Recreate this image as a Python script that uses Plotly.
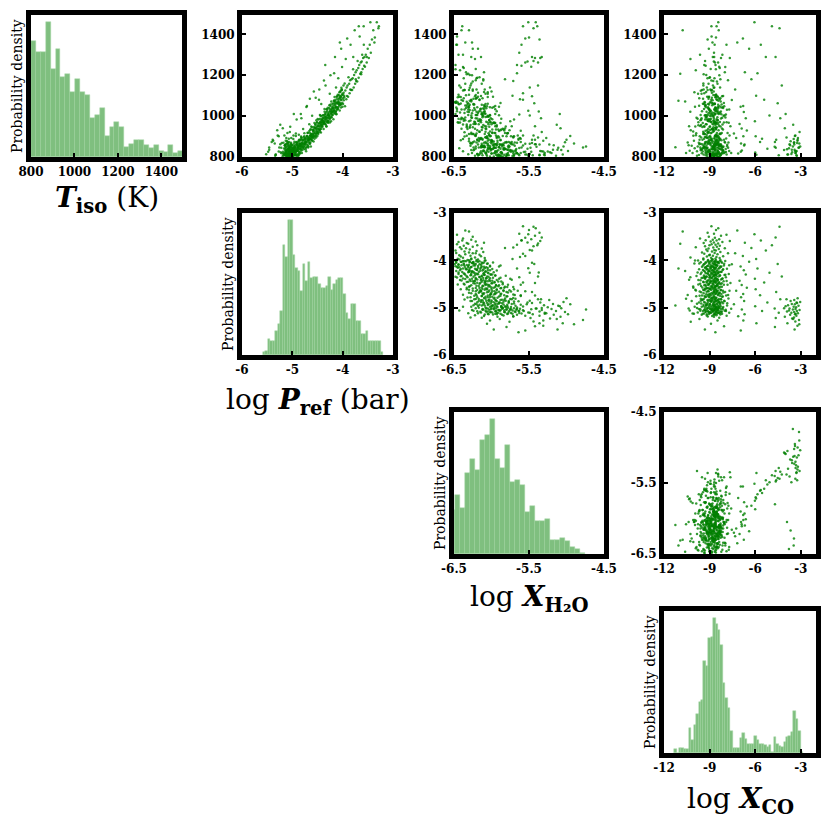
import plotly.graph_objects as go

# ---------------- diagonal histograms (bar heights) ----------------
t_bin_start, t_bin_width = 800, 22.6
t_counts = [353, 320, 320, 413, 270, 330, 243, 253, 200, 238, 200, 188, 118, 128, 150, 63,
            91, 106, 91, 30, 40, 51, 51, 36, 26, 36, 18, 15, 36, 12, 17]

p_bin_start, p_bin_width = -5.59, 0.05
p_counts = [8, 13, 50, 43, 43, 73, 95, 133, 335, 298, 410, 410, 303, 263, 255, 193, 275, 223,
            283, 233, 238, 235, 215, 203, 203, 208, 238, 198, 215, 228, 233, 233, 186, 126, 110,
            156, 156, 103, 103, 63, 63, 73, 43, 43, 43, 43, 43, 8]

h_bin_start, h_bin_width = -6.558, 0.0667
h_counts = [133, 178, 138, 245, 288, 256, 346, 361, 410, 288, 261, 330, 218, 223, 208, 126,
            145, 101, 101, 106, 43, 43, 48, 38, 21, 16, 3]

c_bin_start, c_bin_width = -11.33, 0.16
c_counts = [11, 0, 16, 16, 11, 11, 76, 38, 86, 118, 156, 161, 278, 265, 348, 351, 410, 390,
            373, 326, 213, 166, 136, 68, 16, 16, 16, 46, 60, 43, 28, 26, 26, 53, 38, 26, 26,
            23, 18, 23, 3, 48, 28, 21, 18, 33, 48, 53, 63, 128, 103, 68, 3]

# ---------------- posterior samples (estimated from the scatter panels) ----------------
# CO-poor samples, deepest reference pressures
logp_a = [-5.52, -5.46, -5.39, -5.34, -5.30, -5.27, -5.24, -5.215,
          -5.193, -5.184, -5.177, -5.171, -5.166, -5.158, -5.152, -5.147, -5.141, -5.136,
          -5.131, -5.127, -5.122, -5.118, -5.113, -5.109, -5.104, -5.101, -5.097, -5.093,
          -5.089, -5.085, -5.081, -5.078, -5.074, -5.071, -5.067, -5.064, -5.061, -5.057,
          -5.054, -5.051, -5.048, -5.045, -5.042, -5.039, -5.036, -5.033, -5.030, -5.027,
          -5.024, -5.021, -5.018, -5.015, -5.012, -5.009, -5.007, -5.005, -5.003, -5.001]
t_a = [813, 846, 884, 806, 931, 827, 862, 818,
       804, 826, 870, 812, 842, 905, 818, 858, 808, 835,
       880, 822, 847, 813, 866, 829, 806, 851, 918, 817,
       838, 809, 861, 827, 815, 844, 807, 873, 831, 811,
       856, 820, 803, 839, 948, 815, 826, 865, 809, 834,
       820, 893, 812, 845, 806, 828, 817, 859, 836, 811]
h2o_a = [-5.64, -5.97, -5.42, -6.06, -5.76, -5.31, -5.89, -6.13,
         -5.92, -5.71, -6.10, -5.55, -5.84, -6.22, -5.66, -5.98, -5.45, -5.79,
         -6.05, -5.88, -5.60, -6.31, -5.74, -5.93, -5.51, -6.14, -5.82, -5.68,
         -6.01, -5.77, -5.36, -5.95, -6.19, -5.63, -5.89, -6.08, -5.72, -5.83,
         -5.58, -6.26, -5.90, -5.67, -6.03, -5.80, -5.47, -5.97, -6.12, -5.75,
         -5.86, -5.62, -6.07, -5.94, -5.70, -5.33, -6.00, -5.85, -5.78, -6.17]

# CO-poor samples, log P between -5.0 and -4.55
logp_b = [-4.992, -4.981, -4.996, -4.972, -4.964, -4.986, -4.958, -4.977, -4.954, -4.969,
          -4.943, -4.936, -4.948, -4.921, -4.914, -4.931, -4.906, -4.926, -4.911, -4.939,
          -4.893, -4.882, -4.897, -4.871, -4.864, -4.886, -4.859, -4.876, -4.856, -4.853,
          -4.841, -4.836, -4.847, -4.822, -4.817, -4.832, -4.806, -4.826, -4.811, -4.844,
          -4.792, -4.781, -4.796, -4.772, -4.764, -4.786, -4.761, -4.777, -4.756, -4.753,
          -4.742, -4.736, -4.748, -4.721, -4.716, -4.731, -4.706, -4.726, -4.711, -4.744,
          -4.693, -4.682, -4.697, -4.671, -4.664, -4.686, -4.658, -4.677, -4.655, -4.652,
          -4.641, -4.634, -4.647, -4.621, -4.617, -4.632, -4.607, -4.624, -4.612, -4.643,
          -4.593, -4.582, -4.597, -4.573, -4.566, -4.587, -4.561, -4.578, -4.557, -4.553]
t_b = [803, 843, 820, 856, 807, 832, 875, 905, 848, 824,
       847, 808, 833, 870, 983, 828, 860, 812, 839, 819,
       810, 847, 873, 909, 885, 802, 855, 837, 819, 865,
       885, 840, 817, 863, 852, 1010, 871, 900, 833, 856,
       844, 884, 861, 897, 848, 937, 916, 853, 889, 865,
       890, 838, 876, 1045, 850, 871, 903, 828, 882, 862,
       856, 893, 919, 871, 960, 846, 901, 883, 865, 1085,
       934, 889, 866, 912, 901, 852, 1002, 949, 882, 905,
       895, 935, 912, 1120, 899, 924, 967, 904, 940, 916]
h2o_b = [-5.81, -6.02, -5.66, -5.93, -6.18, -5.74, -5.99, -5.58, -6.09, -5.87,
         -6.05, -5.79, -6.24, -5.92, -5.70, -6.11, -5.86, -5.53, -6.01, -5.95,
         -5.90, -6.14, -5.77, -6.03, -5.64, -5.97, -6.28, -5.84, -6.07, -5.49,
         -6.12, -5.88, -6.00, -5.73, -6.21, -5.95, -5.82, -6.36, -5.68, -6.04,
         -5.96, -6.19, -5.71, -6.08, -5.90, -6.32, -5.79, -6.02, -5.61, -6.13,
         -6.05, -5.83, -6.23, -5.97, -6.11, -5.69, -6.01, -6.38, -5.88, -5.42,
         -6.10, -5.93, -6.27, -5.80, -6.04, -6.17, -5.74, -6.00, -5.55, -6.21,
         -5.99, -6.15, -5.84, -6.30, -6.06, -5.76, -6.12, -5.93, -6.41, -5.65,
         -6.08, -5.87, -6.25, -6.00, -5.71, -6.16, -5.95, -6.33, -5.82, -6.04]

# CO-poor samples, log P between -4.55 and -4.0
logp_c = [-4.542, -4.531, -4.546, -4.522, -4.514, -4.536, -4.508, -4.527, -4.504, -4.518,
          -4.493, -4.482, -4.497, -4.471, -4.464, -4.486, -4.458, -4.477, -4.455, -4.452,
          -4.441, -4.436, -4.447, -4.422, -4.417, -4.432, -4.406, -4.426, -4.411, -4.444,
          -4.392, -4.381, -4.396, -4.372, -4.366, -4.387, -4.361, -4.377, -4.356, -4.353,
          -4.343, -4.336, -4.348, -4.321, -4.317, -4.332, -4.307, -4.324, -4.311, -4.346,
          -4.294, -4.283, -4.297, -4.273, -4.265, -4.288, -4.259, -4.279, -4.256, -4.253,
          -4.241, -4.236, -4.247, -4.222, -4.217, -4.232, -4.206, -4.226, -4.212, -4.243,
          -4.192, -4.181, -4.196, -4.172, -4.166, -4.187, -4.161, -4.177, -4.156, -4.153,
          -4.143, -4.136, -4.148, -4.121, -4.117, -4.132, -4.107, -4.124, -4.111, -4.146,
          -4.094, -4.083, -4.097, -4.073, -4.065, -4.088, -4.059, -4.079, -4.056, -4.053,
          -4.041, -4.036, -4.047, -4.022, -4.017, -4.032, -4.006, -4.026, -4.012, -4.044]
t_c = [957, 905, 943, 980, 917, 1090, 970, 895, 949, 929,
       923, 960, 986, 938, 1130, 913, 968, 950, 932, 1005,
       1002, 957, 934, 980, 969, 920, 988, 1060, 950, 973,
       963, 1003, 980, 1175, 967, 992, 1035, 972, 1008, 984,
       1011, 959, 997, 1034, 971, 992, 1024, 949, 1003, 1250,
       978, 1015, 1041, 993, 1053, 968, 1023, 1005, 1110, 1033,
       1057, 1012, 989, 1035, 1024, 975, 1043, 1072, 1005, 1200,
       1022, 1062, 1039, 1075, 1026, 1051, 1094, 1031, 1067, 1290,
       1072, 1020, 1058, 1095, 1032, 1140, 1085, 1010, 1064, 1044,
       1042, 1079, 1105, 1057, 1117, 1185, 1087, 1069, 1360, 1097,
       1124, 1079, 1056, 1102, 1130, 1042, 1110, 1139, 1240, 1095]
h2o_c = [-6.11, -5.94, -6.29, -6.03, -5.78, -6.20, -6.45, -5.90, -6.07, -5.61,
         -6.16, -6.00, -6.37, -5.85, -6.09, -6.24, -5.96, -5.42, -6.13, -6.31,
         -6.05, -6.28, -5.91, -6.14, -6.42, -5.99, -6.19, -6.08, -5.73, -6.23,
         -6.21, -6.02, -6.35, -6.11, -5.88, -6.26, -6.46, -6.07, -5.63, -6.16,
         -6.13, -6.33, -6.04, -5.95, -6.22, -6.40, -6.09, -5.81, -6.27, -6.48,
         -6.18, -6.36, -5.99, -6.27, -6.10, -6.44, -5.37, -6.21, -6.05, -6.31,
         -6.24, -6.08, -6.39, -6.15, -5.93, -6.30, -6.19, -6.47, -6.02, -6.26,
         -6.20, -6.41, -6.11, -6.29, -5.51, -6.33, -6.05, -6.22, -6.45, -6.14,
         -6.27, -6.10, -6.43, -6.18, -6.36, -6.02, -6.24, -6.48, -5.88, -6.31,
         -6.30, -6.16, -6.44, -6.23, -6.05, -6.37, -6.12, -6.49, -6.26, -5.46,
         -6.25, -6.40, -6.13, -6.34, -6.20, -6.47, -6.08, -6.29, -6.38, -5.98]

# CO-poor samples, shallowest pressures (hot tail)
logp_d = [-3.992, -3.981, -3.968, -3.961, -3.953, -3.947, -3.939, -3.928, -3.921, -3.914,
          -3.903, -3.892, -3.884, -3.871, -3.862, -3.851, -3.843, -3.832, -3.824,
          -3.812, -3.801, -3.793, -3.781, -3.772, -3.761, -3.752, -3.743, -3.731,
          -3.722, -3.711, -3.703, -3.691, -3.682, -3.671, -3.662, -3.651, -3.642,
          -3.633, -3.621, -3.612, -3.603, -3.594, -3.583, -3.574, -3.566, -3.557,
          -3.541, -3.522, -3.503, -3.481, -3.462, -3.441, -3.418, -3.392, -3.361, -3.322, -3.281]
t_d = [1060, 1115, 1092, 1160, 1048, 1125, 1280, 1083, 1140, 1099,
       1150, 1095, 1190, 1158, 1112, 1176, 1350, 1128, 1180,
       1128, 1185, 1230, 1140, 1201, 1420, 1158, 1215, 1172,
       1225, 1170, 1270, 1236, 1188, 1250, 1390, 1207, 1262,
       1205, 1268, 1300, 1231, 1285, 1440, 1246, 1290, 1242,
       1300, 1262, 1330, 1285, 1350, 1310, 1375, 1420, 1385, 1460, 1440]
h2o_d = [-6.32, -6.18, -6.45, -6.27, -6.09, -6.38, -6.22, -5.62, -6.41, -6.14,
         -6.28, -6.43, -6.16, -6.35, -5.58, -6.21, -6.47, -6.30, -6.11,
         -6.36, -6.20, -6.48, -5.49, -6.29, -6.40, -6.13, -6.34, -5.71,
         -6.42, -6.25, -5.44, -6.37, -6.19, -5.66, -6.46, -6.31, -5.38,
         -6.33, -5.52, -6.44, -6.21, -5.35, -6.39, -5.60, -6.27, -5.47,
         -6.38, -5.55, -6.25, -5.42, -6.46, -5.63, -5.36, -6.30, -5.50, -5.41, -5.58]

# extra CO-poor samples filling the dense core (log P -5.15 .. -4.6)
logp_e = [-5.148, -5.139, -5.131, -5.126, -5.119, -5.114, -5.108, -5.142, -5.122, -5.104,
          -5.097, -5.091, -5.084, -5.079, -5.072, -5.066, -5.061, -5.055, -5.088, -5.069,
          -5.048, -5.043, -5.037, -5.031, -5.026, -5.019, -5.013, -5.008, -5.034, -5.016,
          -4.998, -4.991, -4.985, -4.979, -4.972, -4.966, -4.961, -4.954, -4.988, -4.969,
          -4.947, -4.941, -4.935, -4.928, -4.922, -4.917, -4.911, -4.905, -4.938, -4.914,
          -4.898, -4.892, -4.884, -4.879, -4.873, -4.866, -4.861, -4.855, -4.887, -4.869,
          -4.846, -4.841, -4.834, -4.828, -4.822, -4.817, -4.811, -4.804, -4.838, -4.819,
          -4.796, -4.788, -4.779, -4.771, -4.763, -4.755, -4.748, -4.739, -4.731, -4.724,
          -4.718, -4.712, -4.706, -4.699, -4.693, -4.687, -4.681, -4.675, -4.669, -4.663,
          -4.657, -4.651, -4.645, -4.639, -4.633, -4.627, -4.621, -4.615, -4.609, -4.603]
t_e = [816, 842, 805, 827, 861, 809, 833, 852, 820, 878,
       803, 838, 821, 855, 811, 846, 829, 807, 867, 824,
       812, 849, 806, 832, 870, 818, 841, 803, 826, 858,
       822, 801, 847, 834, 811, 866, 828, 853, 808, 839,
       840, 812, 857, 826, 873, 806, 848, 831, 819, 862,
       831, 859, 815, 847, 881, 823, 866, 839, 853, 810,
       862, 828, 851, 884, 837, 870, 819, 856, 845, 893,
       848, 879, 866, 838, 902, 857, 884, 871, 845, 895,
       872, 903, 861, 889, 918, 877, 851, 896, 884, 927,
       889, 918, 872, 907, 934, 884, 912, 898, 946, 880]
h2o_e = [-5.86, -6.04, -5.72, -5.95, -6.18, -5.63, -5.91, -6.09, -5.78, -5.99,
         -6.02, -5.83, -6.15, -5.69, -5.94, -6.24, -5.76, -5.88, -6.07, -5.57,
         -5.91, -6.12, -5.80, -6.01, -5.66, -5.97, -6.21, -5.85, -5.74, -6.05,
         -6.08, -5.87, -5.96, -6.27, -5.79, -6.00, -5.68, -6.13, -5.92, -5.82,
         -5.98, -6.16, -5.84, -6.04, -5.73, -6.22, -5.90, -6.10, -5.61, -5.95,
         -6.06, -5.89, -6.19, -5.77, -6.00, -5.93, -6.26, -5.81, -6.11, -5.70,
         -5.94, -6.14, -5.86, -6.03, -6.23, -5.75, -6.08, -5.97, -5.83, -6.17,
         -6.10, -5.92, -6.28, -5.99, -5.80, -6.13, -5.88, -6.20, -6.02, -5.71,
         -6.01, -6.21, -5.87, -6.12, -5.95, -6.30, -5.78, -6.06, -6.16, -5.90,
         -6.14, -5.96, -6.25, -6.03, -5.84, -6.19, -6.09, -5.93, -6.33, -6.00]

# extra CO-poor samples along the T-P ridge (log P -4.6 .. -3.98)
logp_f = [-4.597, -4.591, -4.584, -4.578, -4.572, -4.566, -4.559, -4.553, -4.547, -4.541,
          -4.535, -4.528, -4.522, -4.516, -4.509, -4.503, -4.497, -4.491, -4.484, -4.478,
          -4.472, -4.466, -4.459, -4.453, -4.447, -4.441, -4.434, -4.428, -4.422, -4.416,
          -4.409, -4.403, -4.397, -4.391, -4.384, -4.378, -4.372, -4.366, -4.359, -4.353,
          -4.347, -4.341, -4.334, -4.328, -4.322, -4.316, -4.309, -4.303, -4.297, -4.291,
          -4.284, -4.278, -4.272, -4.266, -4.259, -4.253, -4.247, -4.241, -4.234, -4.228,
          -4.222, -4.216, -4.209, -4.203, -4.197, -4.191, -4.184, -4.178, -4.172, -4.166,
          -4.159, -4.153, -4.147, -4.141, -4.134, -4.128, -4.122, -4.116, -4.109, -4.103,
          -4.097, -4.091, -4.084, -4.078, -4.072, -4.066, -4.059, -4.053, -4.047, -4.041,
          -4.034, -4.028, -4.022, -4.016, -4.009, -4.003, -3.997, -3.991, -3.984, -3.978]
t_f = [893, 931, 908, 876, 947, 915, 889, 925, 902, 960,
       944, 912, 935, 969, 921, 903, 952, 938, 917, 983,
       931, 965, 952, 924, 987, 946, 970, 938, 1001, 955,
       981, 948, 970, 1004, 959, 937, 990, 966, 1022, 975,
       962, 997, 985, 1018, 951, 979, 1034, 993, 970, 1005,
       1012, 978, 1001, 1040, 987, 969, 1023, 1050, 996, 1014,
       1030, 994, 1018, 1061, 1005, 1040, 985, 1026, 1075, 1013,
       1015, 1052, 1038, 1080, 1024, 1009, 1063, 1044, 1097, 1033,
       1071, 1036, 1060, 1103, 1049, 1088, 1028, 1066, 1118, 1056,
       1059, 1094, 1081, 1128, 1066, 1046, 1105, 1087, 1150, 1078]
h2o_f = [-6.06, -5.88, -6.21, -5.97, -6.13, -5.79, -6.30, -6.02, -5.91, -6.17,
         -6.12, -6.27, -5.94, -6.05, -6.36, -5.85, -6.09, -6.22, -5.99, -6.15,
         -6.19, -5.96, -6.33, -6.08, -5.87, -6.25, -6.02, -6.40, -6.11, -5.93,
         -6.03, -6.29, -6.14, -5.90, -6.38, -6.07, -6.21, -5.98, -6.32, -6.16,
         -6.24, -6.06, -6.41, -6.13, -5.95, -6.28, -6.10, -6.35, -6.01, -6.19,
         -6.11, -6.37, -6.04, -6.23, -6.44, -5.97, -6.17, -6.30, -6.08, -6.26,
         -6.29, -6.12, -6.42, -6.05, -6.20, -6.34, -5.99, -6.15, -6.38, -6.09,
         -6.18, -6.35, -6.07, -6.27, -6.46, -6.13, -6.31, -6.02, -6.22, -6.40,
         -6.33, -6.14, -6.44, -6.21, -6.06, -6.37, -6.25, -6.47, -6.10, -6.29,
         -6.24, -6.41, -6.16, -6.36, -6.48, -6.09, -6.30, -6.20, -6.43, -6.27]

# log CO of all CO-poor samples above (segments a, b, c, d, e, f in order)
co_poor = [-8.62, -9.31, -8.05, -8.91, -10.24, -8.48, -9.67, -8.37, -8.71, -9.12,
           -8.83, -7.88, -9.19, -8.55, -9.52, -8.29, -8.68, -9.03, -10.03, -8.18,
           -9.36, -8.66, -8.41, -7.71, -8.97, -9.78, -8.52, -8.23, -8.79, -9.26,
           -8.58, -9.09, -8.33, -9.44, -8.74, -8.01, -10.31, -8.86, -9.21, -8.46,
           -8.69, -7.94, -9.34, -8.50, -8.94, -9.61, -8.27, -8.64, -7.58, -9.15,
           -9.00, -8.44, -8.77, -9.83, -8.15, -8.57, -9.29, -8.89, -8.35, -9.98,
           -8.53, -9.40, -8.72, -8.10, -9.06, -8.61, -11.25, -8.39, -9.22, -8.81,
           -8.47, -8.98, -9.55, -8.65, -7.84, -9.17, -8.31, -8.75, -9.70, -8.20,
           -9.28, -8.59, -8.92, -8.36, -10.18, -8.70, -8.04, -9.11, -8.49, -9.47,
           -8.84, -8.26, -9.38, -8.63, -7.76, -8.95, -9.58, -8.42, -8.73, -9.04,
           -8.56, -9.24, -8.13, -8.80, -9.88, -8.67, -8.30, -9.33, -7.91, -8.90,
           -9.13, -8.45, -8.76, -10.44, -8.60, -9.01, -8.22, -9.50, -8.38, -8.68,
           -8.87, -7.98, -9.20, -8.54, -9.65, -8.34, -8.71, -9.07, -8.12, -9.36,
           -8.51, -9.42, -8.66, -8.24, -8.99, -9.94, -8.58, -7.69, -9.18, -8.82,
           -9.30, -8.73, -8.40, -9.08, -8.62, -10.07, -8.19, -8.93, -9.56, -8.48,
           -8.64, -9.10, -7.82, -8.85, -9.74, -8.52, -8.28, -9.27, -8.77, -8.43,
           -9.05, -8.57, -9.39, -8.35, -8.70, -7.63, -8.96, -9.22, -8.08, -8.61,
           -8.78, -9.60, -8.46, -9.14, -8.25, -8.67, -10.35, -8.91, -8.55, -9.32,
           -8.50, -8.88, -9.45, -8.17, -9.02, -8.63, -7.93, -9.29, -8.41, -8.74,
           -9.19, -8.69, -8.32, -9.86, -8.58, -8.97, -8.02, -9.35, -8.76, -8.47,
           -8.60, -9.25, -8.83, -7.74, -8.44, -9.12, -9.53, -8.65, -8.21, -8.94,
           -8.72, -9.37, -8.53, -9.06, -8.14, -10.61, -8.80, -8.36, -9.20, -8.66,
           -9.09, -8.42, -8.92, -9.69, -8.59, -7.86, -9.31, -8.70, -8.27, -8.99,
           -8.75, -9.16, -8.49, -8.31, -9.43, -8.86, -8.06, -9.24, -8.63, -7.54,
           -8.57, -9.04, -10.00, -8.68, -8.39, -9.33, -8.81, -8.18, -9.58, -8.51,
           -9.27, -8.64, -8.95, -8.23, -9.76, -8.73, -7.97, -8.46, -9.10, -8.85,
           -8.62, -9.41, -8.34, -8.90, -10.26, -8.55, -9.18, -8.11, -8.78, -9.03,
           -8.98, -8.48, -9.35, -7.79, -8.67, -9.50, -8.29, -8.84, -9.14, -8.59,
           -8.69, -9.22, -8.40, -9.07, -8.00, -8.76, -9.91, -8.52, -9.30, -8.33,
           -9.01, -8.61, -8.87, -10.93, -8.44, -9.39, -8.72, -8.16, -8.93, -7.67,
           -8.54, -9.26, -8.79, -8.37, -9.63, -8.65, -9.05, -8.25, -7.89, -8.71,
           -9.13, -10.77, -8.58, -8.43, -8.88,
           -8.74, -9.18, -8.52, -9.45, -8.33, -8.91, -9.02, -8.66, -10.12, -8.41,
           -8.97, -8.60, -9.27, -8.21, -8.83, -9.61, -8.47, -8.70, -9.09, -7.92,
           -8.56, -9.33, -8.88, -8.14, -9.71, -8.63, -8.38, -9.15, -8.79, -10.38,
           -9.06, -8.45, -8.69, -9.52, -8.27, -8.95, -9.24, -7.85, -8.58, -8.82,
           -8.67, -9.40, -8.31, -8.99, -8.54, -9.83, -8.76, -8.12, -9.20, -8.49,
           -9.12, -8.71, -8.43, -9.36, -8.87, -8.02, -8.61, -9.58, -8.35, -8.93,
           -8.50, -9.03, -8.78, -9.47, -8.24, -8.65, -10.55, -8.89, -9.14, -8.39,
           -8.85, -8.57, -9.29, -8.18, -9.00, -8.72, -9.66, -8.44, -7.78, -9.08,
           -9.22, -8.62, -8.97, -8.36, -9.39, -8.80, -8.09, -9.55, -8.53, -8.71,
           -8.68, -9.11, -8.46, -9.90, -8.59, -8.90, -8.28, -9.31, -8.75, -9.01,
           -8.94, -8.41, -9.19, -8.66, -9.48, -8.30, -8.84, -10.08, -8.55, -9.25,
           -8.58, -9.35, -8.73, -8.06, -9.05, -8.48, -9.62, -8.81, -8.20, -8.96,
           -9.16, -8.64, -8.37, -9.42, -8.92, -8.52, -7.88, -9.09, -8.77, -9.74,
           -8.45, -9.00, -8.69, -9.28, -8.15, -8.86, -9.53, -8.61, -10.27, -8.98,
           -8.81, -9.21, -8.54, -8.32, -9.37, -8.70, -9.04, -7.96, -8.88, -9.59,
           -8.62, -9.13, -8.90, -8.42, -9.79, -8.57, -8.26, -9.30, -8.74, -9.07,
           -9.02, -8.49, -8.83, -9.44, -8.68, -8.11, -9.17, -8.95, -11.05, -8.36,
           -8.72, -9.26, -8.60, -8.89, -9.50, -8.23, -8.79, -9.10, -8.51, -7.71,
           -8.93, -8.56, -9.38, -8.75, -8.04, -9.68, -8.65, -8.99, -9.23, -8.44,
           -8.66, -9.06, -8.34, -9.13, -8.86, -9.96, -8.58, -8.29, -9.41, -8.80]

# CO-rich cluster
logp_rich = [-5.46, -5.38, -5.33, -5.29, -5.26, -5.23, -5.21, -5.19, -5.17, -5.15,
             -5.14, -5.12, -5.11, -5.09, -5.08, -5.07, -5.05, -5.04, -5.03, -5.02,
             -5.01, -4.99, -4.98, -4.96, -4.95, -4.93, -4.92, -4.90, -4.88, -4.86,
             -4.84, -4.82, -4.80, -5.24, -5.13, -5.06, -4.97, -4.89, -5.35]
t_rich = [835, 880, 812, 905, 846, 823, 868, 941, 808, 857,
          829, 893, 815, 872, 838, 806, 922, 851, 819, 862,
          834, 827, 888, 845, 812, 903, 836, 868, 851, 877,
          861, 895, 884, 958, 820, 843, 1010, 829, 866]
h2o_rich = [-5.12, -5.31, -5.05, -5.44, -4.78, -5.22, -6.28, -5.08, -5.36, -5.17,
            -4.98, -5.27, -5.49, -5.02, -6.05, -5.14, -5.33, -4.74, -5.20, -5.41,
            -5.07, -5.25, -6.38, -5.11, -5.30, -4.95, -5.18, -5.46, -5.04, -6.17,
            -5.23, -5.38, -5.00, -5.13, -5.29, -6.43, -5.09, -5.35, -4.90]
co_rich = [-3.41, -3.22, -3.88, -3.36, -3.12, -3.57, -3.45, -4.05, -3.29, -3.70,
           -3.38, -3.19, -3.62, -3.44, -3.91, -3.26, -3.08, -3.52, -3.35, -3.74,
           -4.10, -3.31, -3.47, -3.15, -3.84, -3.39, -3.59, -3.24, -3.04, -3.67,
           -3.43, -3.94, -3.21, -3.50, -3.34, -3.78, -4.00, -3.28, -3.10]

# samples between the two CO modes
logp_mid = [-5.48, -5.41, -5.33, -5.27, -5.22, -5.18, -5.14, -5.11, -5.07, -5.04,
            -5.02, -4.97, -4.93, -4.89, -4.86, -4.82, -4.78, -4.74, -4.71, -4.67,
            -4.64, -4.61, -4.58, -4.52, -4.47, -4.43, -4.39, -4.34, -4.30, -4.26,
            -4.21, -4.17, -4.13, -4.08, -4.03, -3.97, -3.91, -3.85, -3.79, -3.74,
            -3.68, -3.63, -3.58, -3.52, -3.45, -3.37, -3.29]
t_mid = [826, 873, 811, 902, 845, 817, 861, 808, 889, 832,
         850, 822, 915, 840, 856, 990, 866, 874, 1050, 884,
         893, 902, 930, 940, 1080, 962, 975, 1150, 990, 1003,
         1020, 1210, 1046, 1063, 1330, 1100, 1380, 1130, 1290, 1180,
         1440, 1215, 1350, 1290, 1460, 1360, 1430]
h2o_mid = [-5.55, -5.80, -5.36, -6.02, -5.48, -5.71, -5.93, -5.29, -5.64, -6.11,
           -5.40, -5.87, -6.20, -5.52, -5.77, -5.34, -6.05, -5.61, -5.95, -5.46,
           -6.14, -5.70, -5.83, -6.08, -5.58, -6.22, -5.75, -5.38, -6.01, -5.49,
           -6.30, -5.66, -5.90, -5.43, -6.18, -5.72, -5.55, -6.25, -5.46, -5.82,
           -5.39, -6.10, -5.60, -5.33, -5.51, -6.35, -5.44]
co_mid = [-6.95, -4.70, -5.92, -6.78, -4.65, -7.12, -6.70, -4.45, -5.55, -6.88,
          -4.72, -6.00, -7.40, -5.20, -6.73, -4.35, -6.93, -5.68, -6.79, -4.62,
          -7.25, -5.97, -6.55, -6.89, -5.41, -7.03, -6.02, -4.25, -6.62, -5.06,
          -6.75, -5.85, -6.96, -4.52, -6.40, -5.94, -6.81, -7.32, -5.30, -6.25,
          -4.90, -6.68, -5.63, -4.66, -6.05, -7.18, -4.40]

# ---------------- assemble ----------------
samples = {
    't': t_a + t_b + t_c + t_d + t_e + t_f + t_rich + t_mid,
    'p': logp_a + logp_b + logp_c + logp_d + logp_e + logp_f + logp_rich + logp_mid,
    'h': h2o_a + h2o_b + h2o_c + h2o_d + h2o_e + h2o_f + h2o_rich + h2o_mid,
    'c': co_poor + co_rich + co_mid,
}
hists = {
    't': (t_bin_start, t_bin_width, t_counts),
    'p': (p_bin_start, p_bin_width, p_counts),
    'h': (h_bin_start, h_bin_width, h_counts),
    'c': (c_bin_start, c_bin_width, c_counts),
}
params = [
    dict(key='t', rng=[800, 1495], tv=[800, 1000, 1200, 1400], tt=['800', '1000', '1200', '1400'],
         label='<b><i>T</i></b><b><sub>iso</sub></b> (K)'),
    dict(key='p', rng=[-6, -3], tv=[-6, -5, -4, -3], tt=['-6', '-5', '-4', '-3'],
         label='log <b><i>P</i></b><b><sub>ref</sub></b> (bar)'),
    dict(key='h', rng=[-6.5, -4.5], tv=[-6.5, -5.5, -4.5], tt=['-6.5', '-5.5', '-4.5'],
         label='log <b><i>X</i></b><b><sub>H₂O</sub></b>'),
    dict(key='c', rng=[-12, -2], tv=[-12, -9, -6, -3], tt=['-12', '-9', '-6', '-3'],
         label='log <b><i>X</i></b><b><sub>CO</sub></b>'),
]

# the page adds an 8 px body margin, so the figure is 822 px and placed at (8, 8)
OFF = 8
W = H = 830 - OFF
col_px = [(31, 182), (242, 393), (454, 604), (664, 816)]   # page pixels
row_px = [(15, 157), (213, 355), (412, 554), (611, 753)]
title_y = [200, 401, 598, 800]


def fx(px):
    return (px - OFF) / W


def fy(py):
    return 1 - (py - OFF) / H


SERIF = 'DejaVu Serif'
tickfont = dict(family=SERIF, size=12, color='black', weight='bold')
hist_color = 'rgba(0,128,0,0.5)'
dot_color = 'rgba(0,128,0,0.8)'

fig = go.Figure()
layout = {}
annotations = []
n = 0
for r in range(4):
    for c in range(r, 4):
        n += 1
        xa, ya = ('x', 'y') if n == 1 else (f'x{n}', f'y{n}')
        xdom = [fx(col_px[c][0]), fx(col_px[c][1])]
        ydom = [fy(row_px[r][1]), fy(row_px[r][0])]
        px, py = params[c], params[r]
        frame = dict(showline=True, linewidth=5, linecolor='black', mirror=True,
                     showgrid=False, zeroline=False)
        layout[xa.replace('x', 'xaxis')] = dict(
            domain=xdom, anchor=ya, range=px['rng'], tickvals=px['tv'], ticktext=px['tt'],
            ticks='inside', ticklen=4, tickwidth=1.5, tickcolor='black', tickfont=tickfont,
            **frame)
        if r == c:
            start, width, counts = hists[px['key']]
            centers = [start + width * (i + 0.5) for i in range(len(counts))]
            fig.add_trace(go.Bar(x=centers, y=counts, width=width, xaxis=xa, yaxis=ya,
                                 marker=dict(color=hist_color,
                                             line=dict(color='rgba(170,215,170,1)', width=0.5))))
            layout[ya.replace('y', 'yaxis')] = dict(
                domain=ydom, anchor=xa, range=[0, max(counts) * 1.05],
                showticklabels=False, ticks='', **frame)
            annotations.append(dict(
                text='Probability density', textangle=-90, xref='paper', yref='paper',
                x=fx(col_px[c][0] - 14), y=fy((row_px[r][0] + row_px[r][1]) / 2),
                xanchor='center', yanchor='middle',
                showarrow=False, font=dict(family=SERIF, size=14, color='black')))
            annotations.append(dict(
                text=px['label'], xref='paper', yref='paper',
                x=fx((col_px[c][0] + col_px[c][1]) / 2), y=fy(title_y[r]),
                xanchor='center', yanchor='middle',
                showarrow=False, font=dict(family=SERIF, size=28, color='black')))
        else:
            fig.add_trace(go.Scatter(x=samples[px['key']], y=samples[py['key']], mode='markers',
                                     xaxis=xa, yaxis=ya,
                                     marker=dict(size=2.5, color=dot_color, line=dict(width=0))))
            layout[ya.replace('y', 'yaxis')] = dict(
                domain=ydom, anchor=xa, range=py['rng'], tickvals=py['tv'], ticktext=py['tt'],
                ticks='inside', ticklen=4, tickwidth=1.5, tickcolor='black', tickfont=tickfont,
                **frame)

fig.update_layout(**layout)
fig.update_layout(width=W, height=H,
                  margin=dict(l=0, r=0, t=0, b=0, pad=0, autoexpand=False),
                  paper_bgcolor='white', plot_bgcolor='white', showlegend=False,
                  bargap=0, annotations=annotations)
fig.write_html("out.html")
